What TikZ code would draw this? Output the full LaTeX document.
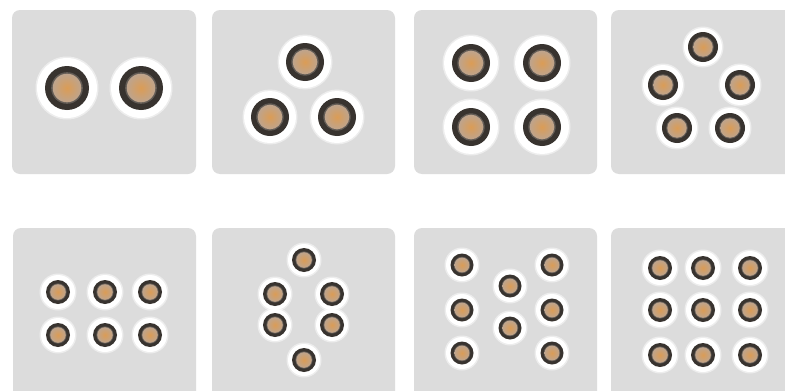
\documentclass[tikz,border=0pt]{standalone}
\begin{document}
\begin{tikzpicture}[x=1pt,y=-1pt]
\definecolor{panel}{HTML}{DCDCDC}
\definecolor{ringc}{HTML}{38332F}
\definecolor{ringin}{HTML}{625B55}
\definecolor{warm}{HTML}{DB9C55}
\definecolor{tan}{HTML}{BEA48D}
\tikzset{panelbox/.style={fill=panel,draw=none,rounded corners=8pt}}
\newcommand\lamp[4]{%
  \fill[white,opacity=0.5] (#1,#2) circle ({#3+1.5});
  \fill[white] (#1,#2) circle (#3);
  \fill[ringc] (#1,#2) circle (#4);
  \fill[ringin] (#1,#2) circle ({0.72*#4});
  \shade[inner color=warm,outer color=tan] (#1,#2) circle ({0.65*#4});
}
\useasboundingbox (0,0) rectangle (785,391);
\clip (0,0) rectangle (785,391);
\fill[white] (0,0) rectangle (785,391);
% panels
\fill[panelbox] (12,10) rectangle (196,174);
\fill[panelbox] (212,10) rectangle (395,174);
\fill[panelbox] (414,10) rectangle (597,174);
\fill[panelbox] (611,10) rectangle (795,174);
\fill[panelbox] (13,228) rectangle (196,400);
\fill[panelbox] (212,228) rectangle (395,400);
\fill[panelbox] (414,228) rectangle (597,400);
\fill[panelbox] (611,228) rectangle (795,400);
% panel 1
\lamp{67}{88}{30}{22}
\lamp{141}{88}{30}{22}
% panel 2
\lamp{305}{62}{26}{19}
\lamp{270}{117}{26}{19}
\lamp{337}{117}{26}{19}
% panel 3
\lamp{471}{63}{27}{19}
\lamp{542}{63}{27}{19}
\lamp{471}{127}{27}{19}
\lamp{542}{127}{27}{19}
% panel 4
\lamp{703}{47}{19}{15}
\lamp{663}{85}{20}{15}
\lamp{740}{85}{20}{15}
\lamp{677}{128}{20}{15}
\lamp{730}{128}{20}{15}
% panel 5
\foreach \x in {58,105,150}{\foreach \y in {292,335}{\lamp{\x}{\y}{17}{12}}}
% panel 6
\lamp{304}{260}{16}{12}
\lamp{275}{294}{16}{12}
\lamp{332}{294}{16}{12}
\lamp{275}{325}{16}{12}
\lamp{332}{325}{16}{12}
\lamp{304}{360}{16}{12}
% panel 7
\lamp{462}{265}{16}{11.5}
\lamp{552}{265}{16}{11.5}
\lamp{510}{286}{16}{11.5}
\lamp{462}{310}{16}{11.5}
\lamp{552}{310}{16}{11.5}
\lamp{510}{328}{16}{11.5}
\lamp{462}{353}{16}{11.5}
\lamp{552}{353}{16}{11.5}
% panel 8
\foreach \x in {660,703,750}{\foreach \y in {268,310,355}{\lamp{\x}{\y}{17}{12}}}
\end{tikzpicture}
\end{document}
